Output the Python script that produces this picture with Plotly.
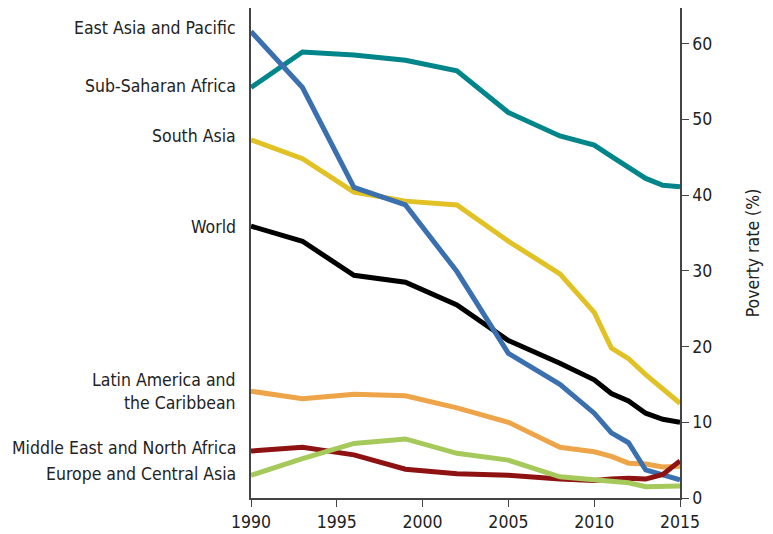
import plotly.graph_objects as go

years = [1990, 1993, 1996, 1999, 2002, 2005, 2008, 2010, 2011, 2012, 2013, 2014, 2015]

east_asia_pacific = [61.6, 54.2, 41.0, 38.7, 29.9, 19.1, 15.0, 11.2, 8.6, 7.3, 3.7, 3.0, 2.4]
sub_saharan_africa = [54.2, 58.9, 58.5, 57.8, 56.4, 50.9, 47.8, 46.6, 45.1, 43.6, 42.2, 41.3, 41.1]
south_asia = [47.3, 44.8, 40.4, 39.2, 38.7, 33.9, 29.6, 24.5, 19.8, 18.4, 16.3, 14.4, 12.5]
world = [35.9, 33.9, 29.4, 28.5, 25.5, 20.8, 17.8, 15.6, 13.8, 12.8, 11.2, 10.4, 10.0]
latin_america_caribbean = [14.1, 13.1, 13.7, 13.5, 11.9, 10.0, 6.7, 6.1, 5.5, 4.6, 4.5, 4.1, 4.2]
middle_east_north_africa = [6.2, 6.7, 5.7, 3.8, 3.2, 3.0, 2.5, 2.3, 2.5, 2.6, 2.5, 3.1, 4.9]
europe_central_asia = [3.0, 5.2, 7.2, 7.8, 5.9, 5.0, 2.8, 2.4, 2.2, 2.0, 1.5, 1.6, 1.6]

series_names = [
    "East Asia and Pacific",
    "Sub-Saharan Africa",
    "South Asia",
    "World",
    "Latin America and<br>the Caribbean",
    "Middle East and North Africa",
    "Europe and Central Asia",
]
series_values = [
    east_asia_pacific,
    sub_saharan_africa,
    south_asia,
    world,
    latin_america_caribbean,
    middle_east_north_africa,
    europe_central_asia,
]

x_ticks = [1990, 1995, 2000, 2005, 2010, 2015]
y_ticks = [0, 10, 20, 30, 40, 50, 60]

colors = ["#3a6fb0", "#00868a", "#e1c124", "#000000", "#eea54a", "#8e1212", "#a6c95c"]
label_y = [62.0, 54.4, 47.8, 35.8, 14.0, 6.6, 3.2]
draw_order = [4, 2, 1, 3, 0, 5, 6]

FONT = "DejaVu Sans Condensed, Liberation Sans Narrow, sans-serif"

fig = go.Figure()
for i in draw_order:
    fig.add_trace(go.Scatter(
        x=years, y=series_values[i], mode="lines",
        line=dict(color=colors[i], width=5),
        name=series_names[i], showlegend=False,
    ))

for name, ly in zip(series_names, label_y):
    fig.add_annotation(
        x=0, y=ly, xref="paper", yref="y", text=name, showarrow=False,
        xanchor="right", yanchor="middle", align="right", xshift=-13,
        font=dict(family=FONT, size=17.5, color="#222222"),
    )

fig.update_layout(
    width=765, height=526,
    margin=dict(l=243, r=93, t=0, b=36, autoexpand=False),
    paper_bgcolor="white", plot_bgcolor="white",
    font=dict(family=FONT, size=17.5, color="#222222"),
    xaxis=dict(
        range=[1990, 2015], tickvals=x_ticks, showgrid=False, zeroline=False,
        showline=True, linecolor="#444444", linewidth=1.5, automargin=False,
        ticks="outside", ticklen=7, tickcolor="#444444",
        tickfont=dict(family=FONT, size=17.5, color="#222222"),
    ),
    yaxis=dict(
        range=[0, 64.7], tickvals=y_ticks, side="right", showgrid=False, zeroline=False,
        showline=True, mirror=True, linecolor="#444444", linewidth=1.5, automargin=False,
        ticks="outside", ticklen=7, tickcolor="#444444",
        tickfont=dict(family=FONT, size=17.5, color="#222222"),
        title=dict(text="Poverty rate (%)", standoff=35,
                   font=dict(family=FONT, size=17.5, color="#222222")),
    ),
)

fig.write_html("out.html")
